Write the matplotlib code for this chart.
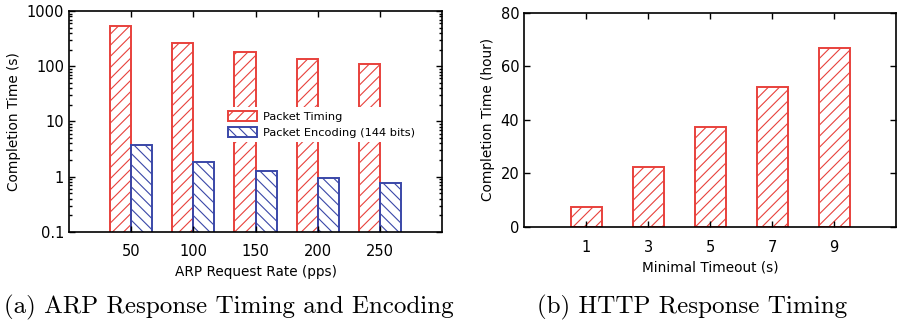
import matplotlib
matplotlib.use("Agg")
import matplotlib.pyplot as plt
from matplotlib.ticker import LogLocator, NullFormatter
import numpy as np

# (a) ARP response timing and encoding
arp_rates = ["50", "100", "150", "200", "250"]
packet_timing = [542, 267, 179, 134, 109]
packet_encoding = [3.77, 1.88, 1.26, 0.95, 0.76]

# (b) HTTP response timing
timeouts = ["1", "3", "5", "7", "9"]
http_hours = [7.5, 22.5, 37.3, 52.2, 67.0]

RED = "#e8413c"
BLUE = "#3a47a8"

plt.rcParams["font.family"] = ["DejaVu Sans"]
plt.rcParams["hatch.linewidth"] = 0.8

fig = plt.figure(figsize=(8.97, 3.25), dpi=100)


def style_axes(ax):
    for s in ax.spines.values():
        s.set_linewidth(1.2)
    ax.tick_params(which="both", direction="in", top=True, right=True,
                   labelsize=10.5, width=1.0)
    ax.tick_params(which="major", length=4.5)
    ax.tick_params(which="minor", length=2.5)
    ax.tick_params(axis="x", which="minor", top=False, bottom=False)
    ax.tick_params(axis="x", pad=9)


# ---- left panel
ax1 = fig.add_axes([0.0769, 0.2862, 0.4159, 0.68])
x = np.arange(len(arp_rates))
w = 0.34
plt.rcParams["hatch.color"] = RED
ax1.bar(x - w / 2, packet_timing, w, fill=False, edgecolor=RED, hatch="///",
        linewidth=1.4, label="Packet Timing")
ax1.bar(x + w / 2, packet_encoding, w, fill=False, edgecolor=BLUE, hatch="\\\\\\",
        linewidth=1.4, label="Packet Encoding (144 bits)")
ax1.set_yscale("log")
ax1.set_ylim(0.1, 1000)
ax1.set_xlim(-1, 5)
ax1.set_xticks(x)
ax1.set_xticklabels(arp_rates)
ax1.set_yticks([0.1, 1, 10, 100, 1000])
ax1.set_yticklabels(["0.1", "1", "10", "100", "1000"])
ax1.yaxis.set_minor_locator(LogLocator(base=10, subs=np.arange(2, 10)))
ax1.yaxis.set_minor_formatter(NullFormatter())
ax1.set_xlabel("ARP Request Rate (pps)", fontsize=9.8)
ax1.set_ylabel("Completion Time (s)", fontsize=9.8)
style_axes(ax1)
leg = ax1.legend(loc="upper left", bbox_to_anchor=(0.4, 0.59), fontsize=8.2,
                 frameon=True, fancybox=False, edgecolor="none", framealpha=1,
                 handlelength=2.6, handleheight=0.9, borderpad=0.35,
                 labelspacing=0.45, handletextpad=0.5)
leg.set_zorder(5)

# ---- right panel
ax2 = fig.add_axes([0.5842, 0.3015, 0.4147, 0.6594])
x2 = np.arange(len(timeouts))
ax2.bar(x2, http_hours, 0.5, fill=False, edgecolor=RED, hatch="///", linewidth=1.4)
ax2.set_ylim(0, 80)
ax2.set_xlim(-1, 5)
ax2.set_xticks(x2)
ax2.set_xticklabels(timeouts)
ax2.set_yticks([0, 20, 40, 60, 80])
ax2.set_xlabel("Minimal Timeout (s)", fontsize=9.8)
ax2.set_ylabel("Completion Time (hour)", fontsize=9.8)
style_axes(ax2)

# ---- captions
fig.text(0.255, 0.055, "(a) ARP Response Timing and Encoding", family="cmr10",
         fontsize=18, ha="center", va="center")
fig.text(0.771, 0.055, "(b) HTTP Response Timing", family="cmr10",
         fontsize=18, ha="center", va="center")

fig.savefig("out.png", dpi=100)
